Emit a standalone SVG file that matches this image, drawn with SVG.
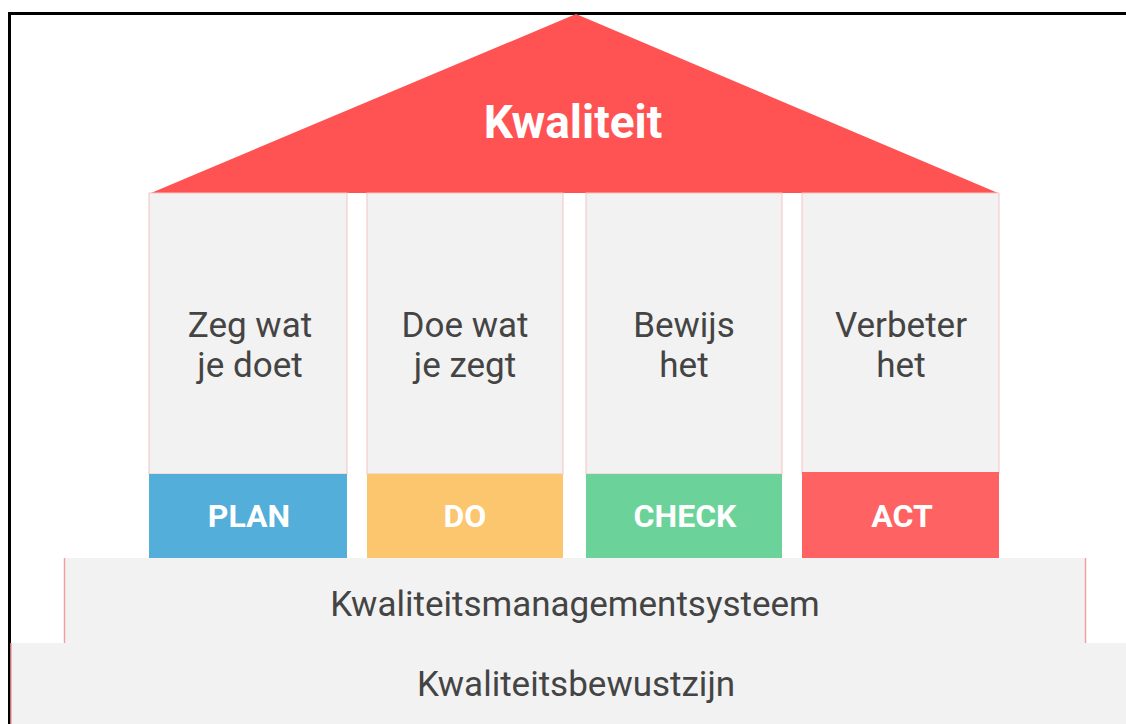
<svg xmlns="http://www.w3.org/2000/svg" width="1126" height="724" viewBox="0 0 1126 724">
<style>
.pil{fill:#f2f2f2;stroke:#f4c4c4;stroke-width:1}
.base{fill:#f2f2f2}
.edge{stroke:#f5a0a0;stroke-width:1.5}
.t{font-family:Roboto,"Liberation Sans",sans-serif;fill:#444;font-size:35px;text-anchor:middle}
.lb{font-family:Roboto,"Liberation Sans",sans-serif;fill:#fff;font-size:32px;font-weight:bold;text-anchor:middle}
</style>
<rect x="0" y="0" width="1126" height="724" fill="#fff"/>
<rect x="9.5" y="13.5" width="1130" height="730" fill="none" stroke="#000" stroke-width="3"/>
<g id="roof">
<polygon points="151,193 576,14 998,193" fill="#ff5252"/>
<text x="573" y="138" font-family="Roboto,'Liberation Sans',sans-serif" font-size="46" font-weight="bold" fill="#fff" text-anchor="middle">Kwaliteit</text>
</g>
<g id="pillar-plan">
<rect class="pil" x="149" y="193" width="198" height="281"/>
<rect x="149" y="474" width="198" height="84" fill="#53aed9"/>
<text class="t" x="250" y="337">Zeg wat</text>
<text class="t" x="250" y="377">je doet</text>
<text class="lb" x="249" y="527">PLAN</text>
</g>
<g id="pillar-do">
<rect class="pil" x="367" y="193" width="196" height="281"/>
<rect x="367" y="474" width="196" height="84" fill="#fcc66e"/>
<text class="t" x="465" y="337">Doe wat</text>
<text class="t" x="465" y="377">je zegt</text>
<text class="lb" x="465" y="527">DO</text>
</g>
<g id="pillar-check">
<rect class="pil" x="586" y="193" width="196" height="281"/>
<rect x="586" y="474" width="196" height="84" fill="#6bd39a"/>
<text class="t" x="684" y="337">Bewijs</text>
<text class="t" x="684" y="377">het</text>
<text class="lb" x="685" y="527">CHECK</text>
</g>
<g id="pillar-act">
<rect class="pil" x="802" y="193" width="197" height="280"/>
<rect x="802" y="472" width="197" height="86" fill="#ff6262"/>
<text class="t" x="901" y="337">Verbeter</text>
<text class="t" x="901" y="377">het</text>
<text class="lb" x="902" y="527">ACT</text>
</g>
<g id="base-kms">
<rect class="base" x="64" y="558" width="1022" height="85"/>
<line class="edge" x1="64.5" y1="558" x2="64.5" y2="643"/>
<line class="edge" x1="1085.5" y1="558" x2="1085.5" y2="643"/>
<text class="t" x="575" y="616" font-size="34">Kwaliteitsmanagementsysteem</text>
</g>
<g id="base-bewust">
<rect class="base" x="11" y="643" width="1115" height="81"/>
<line class="edge" x1="11" y1="643" x2="11" y2="724"/>
<text class="t" x="576" y="696" font-size="34">Kwaliteitsbewustzijn</text>
</g>
<g id="connectors"></g>
</svg>
